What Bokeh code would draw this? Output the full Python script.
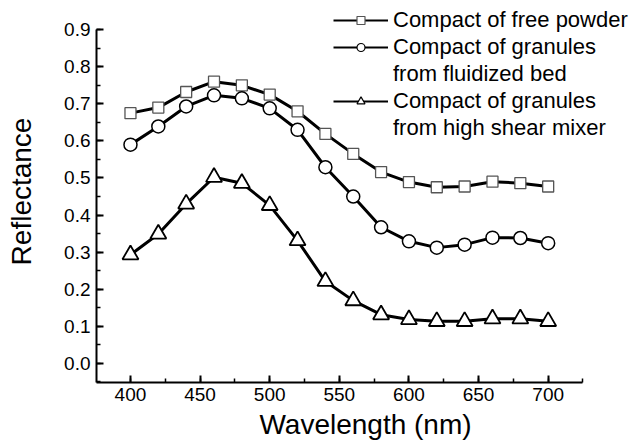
from bokeh.plotting import figure
from bokeh.models import (ColumnDataSource, Range1d, SingleIntervalTicker, PrintfTickFormatter,
                          Legend, LegendItem)
from bokeh.embed import file_html
from bokeh.resources import INLINE

wavelength = [400, 420, 440, 460, 480, 500, 520, 540, 560, 580, 600, 620, 640, 660, 680, 700]
free_powder = [0.675, 0.690, 0.732, 0.760, 0.750, 0.725, 0.680, 0.619, 0.565, 0.516, 0.489,
               0.475, 0.477, 0.490, 0.486, 0.477]
fluidized_bed = [0.590, 0.639, 0.693, 0.723, 0.715, 0.688, 0.630, 0.529, 0.450, 0.367, 0.329,
                 0.312, 0.320, 0.339, 0.338, 0.324]
high_shear = [0.293, 0.349, 0.430, 0.502, 0.486, 0.426, 0.331, 0.221, 0.169, 0.131, 0.118,
              0.113, 0.113, 0.120, 0.120, 0.113]

labels = ["Compact of free powder", "Compact of granules", "from fluidized bed",
          "Compact of granules", "from high shear mixer"]

x_axis_bounds = (375.6, 725)
y_axis_bounds = (-0.052, 0.9)

FONT = "Liberation Sans"

# frame extended to the right and top so the legend can sit there; axes limited by bounds
p = figure(width=634, height=446, output_backend="svg", toolbar_location=None,
           x_range=Range1d(375.6, 762.0), y_range=Range1d(-0.052, 0.979),
           min_border_left=96, min_border_right=0, min_border_top=0, min_border_bottom=64)
p.outline_line_color = None
p.grid.visible = False
p.background_fill_color = "white"

src = ColumnDataSource(dict(x=wavelength, a=free_powder, b=fluidized_bed, c=high_shear))

specs = [("a", "square", 11, "#555555", 1.3),
         ("b", "circle", 13, "black", 1.5),
         ("c", "triangle", 16, "black", 1.8)]

legend_renderers = []
for col, marker, size, edge, ew in specs:
    p.line("x", col, source=src, line_color="black", line_width=3)
    p.scatter("x", col, source=src, marker=marker, size=size, fill_color="white",
              line_color=edge, line_width=ew)
    # hidden proxies: thinner line for the legend key
    kl = p.line("x", col, source=src, line_color="black", line_width=2, visible=False)
    ks = p.scatter("x", col, source=src, marker=marker, size=size, fill_color="white",
                   line_color=edge, line_width=1.2, visible=False)
    legend_renderers.append([kl, ks])

dummy = p.line(x=[], y=[], line_alpha=0)

legend = Legend(items=[
    LegendItem(label=labels[0], renderers=legend_renderers[0]),
    LegendItem(label=labels[1], renderers=legend_renderers[1]),
    LegendItem(label=labels[2], renderers=[dummy]),
    LegendItem(label=labels[3], renderers=legend_renderers[2]),
    LegendItem(label=labels[4], renderers=[dummy]),
], location=(237, 241), padding=0, margin=0, spacing=1, glyph_width=55, glyph_height=20,
    label_height=25, label_standoff=5, border_line_alpha=0, background_fill_alpha=0,
    label_text_font=FONT, label_text_font_size="22px", label_text_color="black")
p.add_layout(legend, "center")

for ax in (p.xaxis[0], p.yaxis[0]):
    ax.axis_line_width = 2
    ax.major_tick_line_width = 2
    ax.minor_tick_line_width = 1.5
    ax.major_tick_in = 7
    ax.major_tick_out = 0
    ax.minor_tick_in = 4
    ax.minor_tick_out = 0
    ax.major_label_text_font = FONT
    ax.major_label_text_font_size = "19px"
    ax.major_label_text_color = "black"
    ax.axis_label_text_font = FONT
    ax.axis_label_text_font_size = "28px"
    ax.axis_label_text_font_style = "normal"
    ax.axis_label_text_color = "black"

p.xaxis[0].bounds = x_axis_bounds
p.yaxis[0].bounds = y_axis_bounds
p.xaxis[0].ticker = SingleIntervalTicker(interval=50, num_minor_ticks=2)
p.yaxis[0].ticker = SingleIntervalTicker(interval=0.1, num_minor_ticks=2)
p.yaxis[0].formatter = PrintfTickFormatter(format="%.1f")
p.xaxis[0].axis_label = "Wavelength (nm)"
p.yaxis[0].axis_label = "Reflectance"
p.xaxis[0].major_label_standoff = 5
p.xaxis[0].axis_label_standoff = 5
p.yaxis[0].major_label_standoff = 6
p.yaxis[0].axis_label_standoff = 24

open("out.html", "w").write(file_html(p, INLINE))
